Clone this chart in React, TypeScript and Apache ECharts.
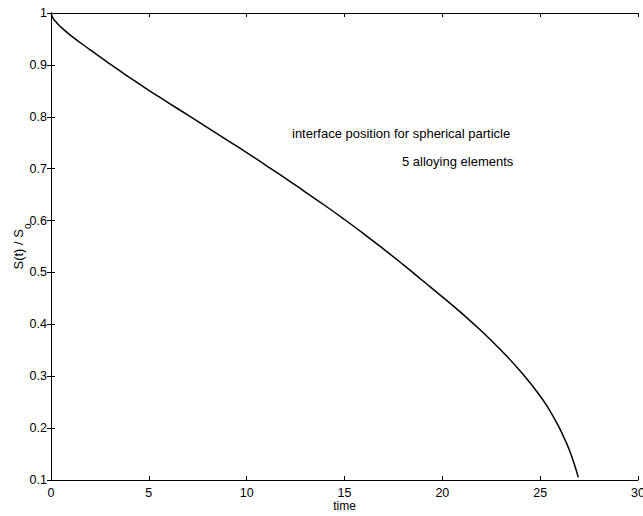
import React, { useEffect, useRef } from "react";
import * as echarts from "echarts";

const timeValues = [0, 0.1, 0.25, 0.5, 1, 2, 3, 4, 5, 6, 7, 8, 9, 10, 11, 12, 13, 14, 15, 16, 17, 18, 19, 20, 21, 22, 23, 24, 25, 25.5, 26, 26.25, 26.5, 26.75, 26.95];
const ratioValues = [1, 0.99, 0.983, 0.973, 0.957, 0.929, 0.902, 0.876, 0.851, 0.827, 0.803, 0.779, 0.755, 0.731, 0.706, 0.681, 0.655, 0.629, 0.602, 0.574, 0.545, 0.515, 0.484, 0.453, 0.421, 0.387, 0.35, 0.309, 0.262, 0.233, 0.199, 0.179, 0.157, 0.13, 0.105];
const annotations = ["interface position for spherical particle", "5 alloying elements"];
const xTitle = "time";

export default function App() {
  const ref = useRef<HTMLDivElement>(null);
  useEffect(() => {
    if (!ref.current) return;
    const chart = echarts.init(ref.current, null, { renderer: "svg" });
    const font = "'Liberation Sans', Arial, Helvetica, sans-serif";
    const axisCommon = {
      axisLine: { show: true, lineStyle: { color: "#000", width: 1 } },
      axisTick: { show: true, inside: true, length: 4, lineStyle: { color: "#000" } },
      splitLine: { show: false },
    };
    chart.setOption({
      animation: false,
      backgroundColor: "#fff",
      grid: { left: 51, right: 5, top: 13, bottom: 36, containLabel: false, outerBoundsMode: "none" },
      xAxis: [
        {
          type: "value", min: 0, max: 30, interval: 5, position: "bottom",
          ...axisCommon,
          axisLabel: { color: "#000", fontSize: 12.5, fontFamily: font, margin: 6 },
          name: xTitle, nameLocation: "middle", nameGap: 20, nameMoveOverlap: false,
          nameTextStyle: { color: "#000", fontSize: 12, fontFamily: font },
        },
        {
          type: "value", min: 0, max: 30, interval: 5, position: "top",
          ...axisCommon, axisLabel: { show: false },
        },
      ],
      yAxis: [
        {
          type: "value", min: 0.1, max: 1, interval: 0.1, position: "left",
          ...axisCommon,
          axisLabel: { color: "#000", fontSize: 12.5, fontFamily: font, margin: 4 },
          name: "S(t) / S{sub|o}", nameLocation: "middle", nameGap: 26, nameRotate: 90, nameMoveOverlap: false,
          nameTextStyle: {
            color: "#000", fontSize: 13, fontFamily: font,
            rich: { sub: { fontSize: 10, fontFamily: font, color: "#000", verticalAlign: "bottom", padding: [0, 0, -7, 0] } },
          },
        },
        {
          type: "value", min: 0.1, max: 1, interval: 0.1, position: "right",
          ...axisCommon, axisLabel: { show: false },
        },
      ],
      graphic: [
        {
          type: "text", left: 292, top: 127,
          style: { text: annotations[0], fill: "#000", fontSize: 13, fontFamily: font },
        },
        {
          type: "text", left: 402, top: 155,
          style: { text: annotations[1], fill: "#000", fontSize: 13, fontFamily: font },
        },
      ],
      series: [
        {
          type: "line",
          xAxisIndex: 0, yAxisIndex: 0,
          data: timeValues.map((t, i) => [t, ratioValues[i]]),
          showSymbol: false, smooth: true,
          lineStyle: { color: "#000", width: 1.5 },
        },
      ],
    });
    return () => chart.dispose();
  }, []);
  return (
    <div ref={ref} style={{ position: "fixed", left: 0, top: 0, width: 643, height: 516, background: "#fff" }} />
  );
}
